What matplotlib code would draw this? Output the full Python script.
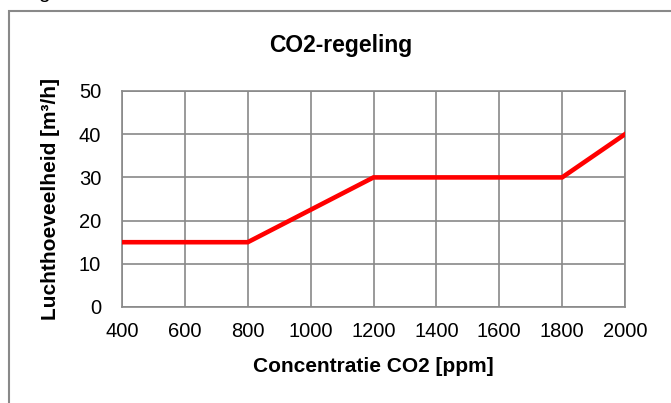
import matplotlib.pyplot as plt
from matplotlib.patches import Rectangle

plt.rcParams['font.family'] = ['Liberation Sans', 'DejaVu Sans']

concentratie = [400, 800, 1200, 1800, 2000]
debiet = [15, 15, 30, 30, 40]
x_ticks = [400, 600, 800, 1000, 1200, 1400, 1600, 1800, 2000]
y_ticks = [0, 10, 20, 30, 40, 50]

W, H = 671, 403
fig = plt.figure(figsize=(W / 100, H / 100), dpi=100)

# chart frame (cut off at right and bottom)
fig.patches.append(Rectangle((9 / W, -0.05), 1.0, (H - 11) / H + 0.05,
                             transform=fig.transFigure, fill=False,
                             edgecolor='#898989', linewidth=1.5))
# leftover of text above the chart, only its descender is visible
fig.text(44 / W, 1 + 1.5 / H, 'g', fontsize=15, ha='center', va='baseline')

ax = fig.add_axes([122 / W, 1 - 307 / H, (625 - 122) / W, (307 - 91) / H])
ax.plot(concentratie, debiet, color='#ff0000', linewidth=3.3,
        solid_joinstyle='miter', zorder=3)
ax.set_xlim(400, 2000)
ax.set_ylim(0, 50)
ax.set_xticks(x_ticks)
ax.set_yticks(y_ticks)
ax.grid(True, color='#898989', linewidth=1.2)
for s in ax.spines.values():
    s.set_color('#898989')
    s.set_linewidth(1.2)
ax.tick_params(length=0, labelsize=14.5)
ax.tick_params(axis='y', pad=15)
ax.tick_params(axis='x', pad=11)

fig.text(341 / W, 1 - 52 / H, 'CO2-regeling', fontsize=16.5,
         fontweight='bold', ha='center', va='baseline')
fig.text(373 / W, 1 - 372 / H, 'Concentratie CO2 [ppm]', fontsize=15,
         fontweight='bold', ha='center', va='baseline')
fig.text(51 / W, 1 - 199 / H, 'Luchthoeveelheid [m³/h]', fontsize=15,
         fontweight='bold', ha='center', va='center', rotation=90)

fig.savefig('out.png', dpi=100)
